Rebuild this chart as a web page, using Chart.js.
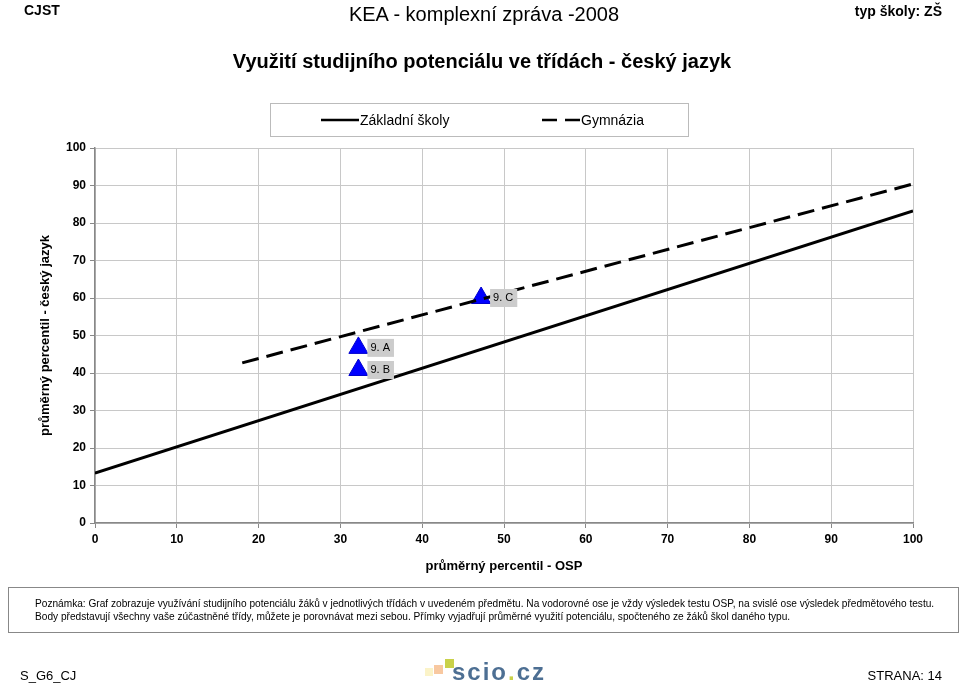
<!DOCTYPE html>
<html>
<head>
<meta charset="utf-8">
<script src="https://cdn.jsdelivr.net/npm/chart.js@4/dist/chart.umd.min.js"></script>
<style>
    body { margin: 0; background: #fff; font-family: "Liberation Sans", Arial, sans-serif; }
    #page { position: relative; width: 960px; height: 685px; overflow: hidden; }
    #chart { position: absolute; left: 0; top: 0; }
    .abs { position: absolute; white-space: nowrap; }
    #legend { position: absolute; left: 270px; top: 103px; width: 417px; height: 32px; border: 1px solid #bbb; font-size: 14px; }
    #legend span { position: absolute; top: 8px; }
    #note { position: absolute; left: 8px; top: 587px; width: 949px; height: 44px; border: 1px solid #888; font-size: 10.13px; line-height: 13px; }
    #note div { position: absolute; left: 26px; top: 9px; white-space: nowrap; }
</style>
</head>
<body>
<div id="page">
    <canvas id="chart" width="960" height="685"></canvas>
    <div class="abs" style="left:24px;top:2px;font-size:14px;font-weight:bold;">CJST</div>
    <div class="abs" style="left:0;width:968px;top:3px;text-align:center;font-size:20px;">KEA - komplexní zpráva -2008</div>
    <div class="abs" style="right:18px;top:3px;font-size:14px;font-weight:bold;">typ školy: ZŠ</div>
    <div class="abs" style="left:0;width:964px;top:50px;text-align:center;font-size:20px;font-weight:bold;">Využití studijního potenciálu ve třídách - český jazyk</div>
    <div id="legend">
        <svg class="abs" style="left:50px;top:14px" width="38" height="4"><line x1="0" y1="2" x2="38" y2="2" stroke="#000" stroke-width="2.5"/></svg>
        <span style="left:89px">Základní školy</span>
        <svg class="abs" style="left:271px;top:14px" width="38" height="4"><line x1="0" y1="2" x2="38" y2="2" stroke="#000" stroke-width="2.5" stroke-dasharray="15,8"/></svg>
        <span style="left:310px">Gymnázia</span>
    </div>
    <div id="note"><div>Poznámka: Graf zobrazuje využívání studijního potenciálu žáků v jednotlivých třídách v uvedeném předmětu. Na vodorovné ose je vždy výsledek testu OSP, na svislé ose výsledek předmětového testu.<br>Body představují všechny vaše zúčastněné třídy, můžete je porovnávat mezi sebou. Přímky vyjadřují průměrné využití potenciálu, spočteného ze žáků škol daného typu.</div></div>
    <div class="abs" style="left:20px;top:668px;font-size:13px;">S_G6_CJ</div>
    <div class="abs" style="right:18px;top:668px;font-size:13px;">STRANA: 14</div>
    <div class="abs" style="left:425px;top:668px;width:8px;height:8px;background:#fbf3c8;"></div>
    <div class="abs" style="left:434px;top:665px;width:9px;height:9px;background:#f8c8a0;"></div>
    <div class="abs" style="left:445px;top:659px;width:9px;height:9px;background:#c9d14a;"></div>
    <div class="abs" style="left:452px;top:658px;font-size:24px;font-weight:bold;color:#4d6f93;letter-spacing:2px;">scio<span style="color:#c9d14a">.</span>cz</div>
</div>
<script>
    // values
    const classNames = ["9. A", "9. B", "9. C"];
    const classOsp = [32.2, 32.2, 47.2];
    const classScore = [46.7, 40.8, 60.0];

    const zsLine = [{ x: 0, y: 13.3 }, { x: 100, y: 83.2 }];
    const gymLine = [{ x: 18, y: 42.7 }, { x: 100, y: 90.4 }];

    const xTicks = [0, 10, 20, 30, 40, 50, 60, 70, 80, 90, 100];
    const yTicks = [0, 10, 20, 30, 40, 50, 60, 70, 80, 90, 100];

    const classPoints = classNames.map(function (name, i) {
        return { x: classOsp[i], y: classScore[i] };
    });

    // gray label boxes next to the class points
    const pointLabels = {
        id: "pointLabels",
        afterDatasetsDraw: function (chart) {
            const ctx = chart.ctx;
            const meta = chart.getDatasetMeta(2);
            ctx.save();
            ctx.font = "11px 'Liberation Sans', Arial, sans-serif";
            ctx.textBaseline = "middle";
            meta.data.forEach(function (el, i) {
                const text = classNames[i];
                const w = ctx.measureText(text).width + 7;
                const left = el.x + 9;
                ctx.fillStyle = "#cccccc";
                ctx.fillRect(left, el.y - 9, w, 18);
                ctx.fillStyle = "#000";
                ctx.fillText(text, left + 3, el.y);
            });
            ctx.restore();
        }
    };

    new Chart(document.getElementById("chart").getContext("2d"), {
        type: "scatter",
        data: {
            datasets: [
                {
                    label: "Základní školy",
                    type: "line",
                    data: zsLine,
                    borderColor: "#000",
                    borderWidth: 3,
                    pointRadius: 0,
                    fill: false
                },
                {
                    label: "Gymnázia",
                    type: "line",
                    data: gymLine,
                    borderColor: "#000",
                    borderWidth: 3,
                    borderDash: [17, 8],
                    pointRadius: 0,
                    fill: false
                },
                {
                    label: "třídy",
                    data: classPoints,
                    pointStyle: "triangle",
                    pointRadius: 11,
                    backgroundColor: "#0000ff",
                    borderColor: "#0000cc",
                    borderWidth: 1
                }
            ]
        },
        options: {
            responsive: false,
            animation: false,
            layout: { padding: { left: 34, right: 47, top: 148, bottom: 107 } },
            plugins: {
                legend: { display: false },
                tooltip: { enabled: false }
            },
            scales: {
                x: {
                    type: "linear",
                    min: 0,
                    max: 100,
                    afterBuildTicks: function (scale) {
                        scale.ticks = xTicks.map(function (v) { return { value: v }; });
                    },
                    afterFit: function (scale) { scale.height = 55; },
                    grid: { color: "#c8c8c8", tickColor: "#888", tickLength: 5 },
                    border: { color: "#888", width: 1.5 },
                    ticks: { color: "#000", font: { size: 12, weight: "bold", family: "'Liberation Sans', Arial" }, padding: 4 },
                    title: {
                        display: true,
                        text: "průměrný percentil - OSP",
                        color: "#000",
                        font: { size: 13, weight: "bold", family: "'Liberation Sans', Arial" },
                        padding: { top: 6 }
                    }
                },
                y: {
                    type: "linear",
                    min: 0,
                    max: 100,
                    afterBuildTicks: function (scale) {
                        scale.ticks = yTicks.map(function (v) { return { value: v }; });
                    },
                    afterFit: function (scale) { scale.width = 61; },
                    grid: { color: "#c8c8c8", tickColor: "#888", tickLength: 5 },
                    border: { color: "#888", width: 1.5 },
                    ticks: { color: "#000", font: { size: 12, weight: "bold", family: "'Liberation Sans', Arial" }, padding: 4 },
                    title: {
                        display: true,
                        text: "průměrný percentil - český jazyk",
                        color: "#000",
                        font: { size: 13, weight: "bold", family: "'Liberation Sans', Arial" }
                    }
                }
            }
        },
        plugins: [pointLabels]
    });
</script>
</body>
</html>
